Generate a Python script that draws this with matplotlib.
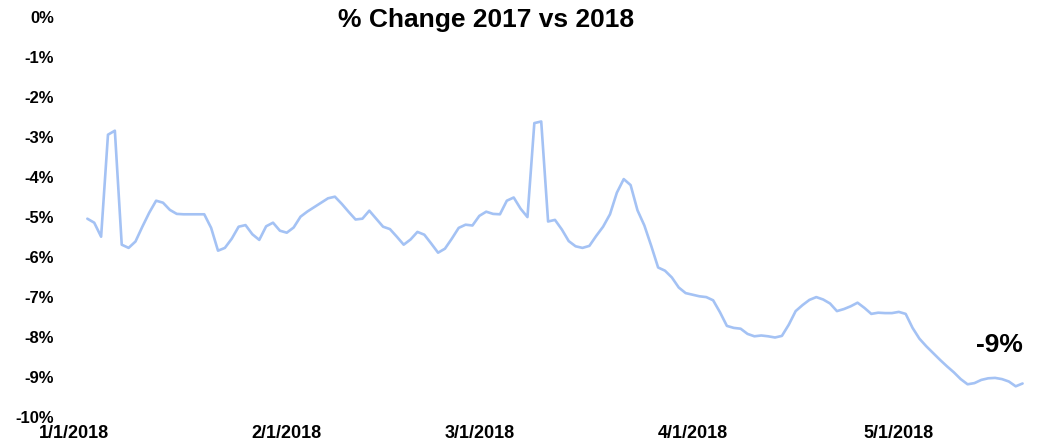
import matplotlib
matplotlib.use("Agg")
import matplotlib.pyplot as plt
import pandas as pd

plt.rcParams['font.family'] = ['Liberation Sans', 'DejaVu Sans']
plt.rcParams['font.weight'] = 'bold'

# daily % change, starting 3 Jan 2018
start_date = "2018-01-03"
pct_change = [
    -5.05, -5.15, -5.50, -2.95, -2.85, -5.70, -5.78, -5.62, -5.25, -4.90,
    -4.60, -4.65, -4.83, -4.93, -4.94, -4.94, -4.94, -4.94, -5.28, -5.85,
    -5.78, -5.55, -5.25, -5.21, -5.44, -5.58, -5.24, -5.15, -5.35, -5.40,
    -5.27, -5.00, -4.87, -4.76, -4.65, -4.54, -4.50, -4.68, -4.88, -5.07,
    -5.05, -4.85, -5.05, -5.25, -5.31, -5.50, -5.70, -5.57, -5.38, -5.45,
    -5.67, -5.90, -5.80, -5.55, -5.28, -5.20, -5.22, -4.98, -4.875, -4.93,
    -4.94, -4.60, -4.52, -4.80, -5.01, -2.66, -2.62, -5.12, -5.08, -5.32,
    -5.61, -5.74, -5.78, -5.73, -5.48, -5.25, -4.94, -4.40, -4.06, -4.21,
    -4.84, -5.22, -5.73, -6.27, -6.35, -6.52, -6.77, -6.91, -6.95, -6.99,
    -7.01, -7.09, -7.39, -7.73, -7.78, -7.80, -7.93, -7.99, -7.97, -7.99,
    -8.02, -7.98, -7.70, -7.36, -7.21, -7.08, -7.01, -7.07, -7.17, -7.36,
    -7.31, -7.24, -7.15, -7.28, -7.43, -7.40, -7.41, -7.41, -7.38, -7.43,
    -7.78, -8.05, -8.24, -8.41, -8.58, -8.74, -8.89, -9.06, -9.19, -9.16,
    -9.08, -9.04, -9.03, -9.06, -9.12, -9.24, -9.17,
]
dates = pd.date_range(start_date, periods=len(pct_change), freq="D")

tick_dates = ["2018-01-01", "2018-02-01", "2018-03-01", "2018-04-01", "2018-05-01"]
tick_labels = ["1/1/2018", "2/1/2018", "3/1/2018", "4/1/2018", "5/1/2018"]
y_ticks = list(range(0, -11, -1))
title = "% Change 2017 vs 2018"

fig = plt.figure(figsize=(10.38, 4.45), dpi=100)
ax = fig.add_axes([0.0709, 0.0636, 0.9275, 0.8989])

ax.plot(dates, pct_change, color="#a4c2f4", linewidth=1.9,
        solid_joinstyle="round", solid_capstyle="round")

ax.set_xlim(pd.Timestamp("2018-01-01"), pd.Timestamp("2018-01-01") + pd.Timedelta(days=140))
ax.set_ylim(-10, 0)
ax.set_xticks(pd.to_datetime(tick_dates))
ax.set_xticklabels(tick_labels, fontsize=13, fontweight="bold")
ax.set_yticks(y_ticks)
ax.set_yticklabels([f"{t}%" for t in y_ticks], fontsize=12, fontweight="bold")
ax.tick_params(axis="y", length=0, pad=14)
ax.tick_params(axis="x", length=0, pad=6)
for s in ax.spines.values():
    s.set_visible(False)

# label for the latest value
ax.annotate(f"{round(pct_change[-1])}%", xy=(dates[-1], pct_change[-1]),
            xytext=(-17, 28), textcoords="offset points",
            ha="center", va="center", fontsize=19, fontweight="bold")

fig.text(486 / 1038, 1 - 20 / 445, title, ha="center", va="center",
         fontsize=19, fontweight="bold")

fig.savefig("out.png", dpi=100)
